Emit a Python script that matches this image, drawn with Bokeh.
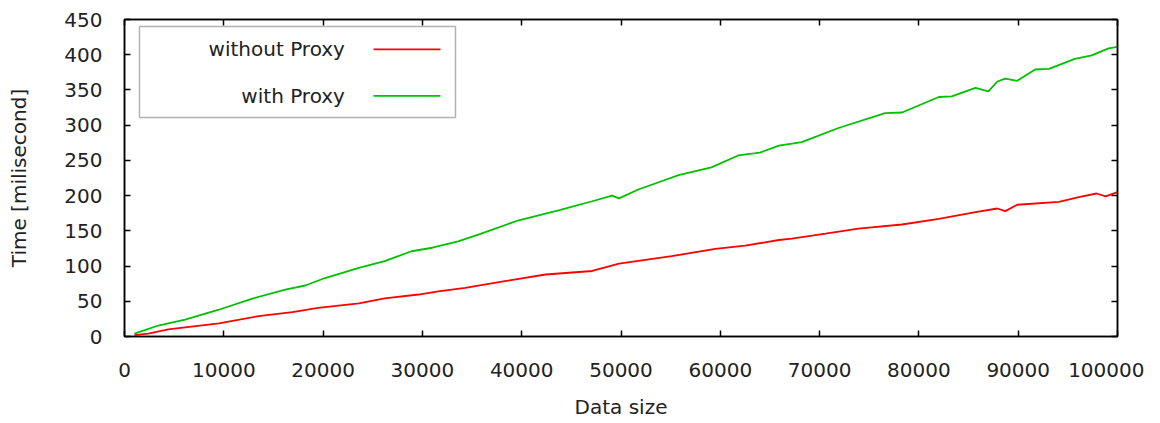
from bokeh.plotting import figure
from bokeh.models import LinearAxis, FixedTicker, BasicTickFormatter, BoxAnnotation, Label, Range1d, CustomJSTickFormatter
from bokeh.embed import file_html
from bokeh.resources import INLINE

# ---- data ----
x_ticks = [0, 10000, 20000, 30000, 40000, 50000, 60000, 70000, 80000, 90000, 100000]
y_ticks = [0, 50, 100, 150, 200, 250, 300, 350, 400, 450]

without_x = [1000, 2400, 4400, 9500, 13500, 16900, 19500, 23600, 26200, 29600, 31600, 34300,
             38300, 42400, 47100, 49800, 55100, 59500, 62500, 65900, 67200, 70600, 73900,
             78300, 82000, 85700, 87900, 88700, 89900, 94100, 96100, 97900, 98800, 100000]
without_y = [2, 4, 10, 18.5, 29, 34.5, 40.7, 47, 54, 59.6, 64, 69,
             78.5, 88, 93, 103.6, 114, 124.5, 129, 137, 139, 146, 153,
             159, 167, 176.5, 181.7, 178, 187, 191, 198, 203, 199, 205]

with_x = [1000, 3400, 6100, 9500, 12800, 16200, 18200, 20200, 23600, 26200, 28900, 31000,
          33600, 35700, 39700, 43700, 47100, 49100, 49800, 51800, 53800, 55800, 59100,
          61800, 64000, 65900, 68200, 71900, 76600, 78300, 82000, 83300, 85700, 87000,
          87900, 88700, 89900, 91700, 93100, 95700, 97400, 99100, 100000]
with_y = [4, 15.6, 24, 38, 53.5, 66.7, 72.4, 83, 97.5, 107, 121, 126,
          135, 145, 165, 179, 192, 200, 196, 209, 219, 229, 240,
          257, 261, 271, 276, 296, 317, 318, 340, 341, 353, 348,
          362, 366, 363, 379, 380, 394, 399, 409, 411]

series_labels = ["without Proxy", "with Proxy"]
series_colors = ["#ff0000", "#00c000"]

FONT = "DejaVu Sans"
FS = "20px"
TXT = "#222222"

p = figure(width=1144, height=421,
           x_range=Range1d(0, 100000), y_range=Range1d(0, 450),
           output_backend="svg", toolbar_location=None,
           min_border_left=124, min_border_right=27,
           min_border_top=19, min_border_bottom=85,
           x_axis_label="Data size", y_axis_label="Time [milisecond]")
p.xgrid.visible = False
p.ygrid.visible = False
p.outline_line_color = "black"
p.outline_line_width = 1.5
p.background_fill_color = "white"
p.border_fill_color = "white"

xt = FixedTicker(ticks=x_ticks)
yt = FixedTicker(ticks=y_ticks)

def style(ax, ticker, labels=True):
    ax.ticker = ticker
    ax.major_tick_in = 6
    ax.major_tick_out = 0
    ax.minor_tick_line_color = None
    ax.axis_line_color = "black"
    ax.axis_line_width = 1.5
    ax.major_tick_line_color = "black"
    ax.major_tick_line_width = 1.5
    if labels:
        ax.major_label_text_font = FONT
        ax.major_label_text_font_size = FS
        ax.major_label_text_color = TXT
        ax.axis_label_text_font = FONT
        ax.axis_label_text_font_size = FS
        ax.axis_label_text_font_style = "normal"
        ax.axis_label_text_color = TXT
    else:
        ax.formatter = CustomJSTickFormatter(code="return '';")
        ax.major_label_standoff = 0

style(p.xaxis[0], xt)
p.xaxis[0].formatter = BasicTickFormatter(use_scientific=False)
p.xaxis[0].major_label_standoff = 26
p.xaxis[0].axis_label_standoff = 15
style(p.yaxis[0], yt)
p.yaxis[0].major_label_standoff = 22
p.yaxis[0].axis_label_standoff = 30

top = LinearAxis()
style(top, xt, labels=False)
p.add_layout(top, "above")
right = LinearAxis()
style(right, yt, labels=False)
p.add_layout(right, "right")

p.line(without_x, without_y, line_color=series_colors[0], line_width=1.8)
p.line(with_x, with_y, line_color=series_colors[1], line_width=1.8)

# ---- legend (gnuplot style: text right-aligned, sample on the right) ----
p.add_layout(BoxAnnotation(left=1510, right=33330, top=440, bottom=311,
                           fill_color="white", fill_alpha=1.0,
                           line_color="black", line_width=1.5, level="underlay"))
legend_y = [407.5, 341.5]
for lab, col, ly in zip(series_labels, series_colors, legend_y):
    p.add_layout(Label(x=22200, y=ly, text=lab, text_align="right", text_baseline="middle",
                       text_font=FONT, text_font_size=FS, text_color=TXT))
    p.segment(x0=25080, x1=31820, y0=ly, y1=ly, line_color=col, line_width=1.8)

open("out.html", "w").write(file_html(p, INLINE))
